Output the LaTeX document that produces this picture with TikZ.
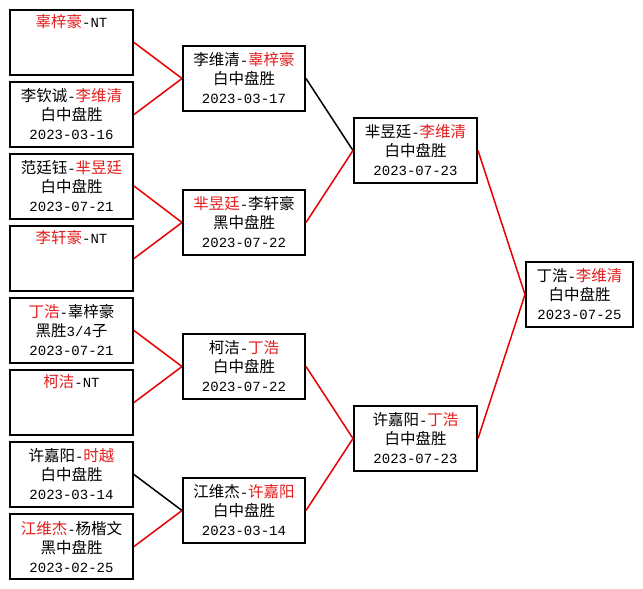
\documentclass[tikz,border=0pt]{standalone}
\usepackage{fontspec}
\setmainfont{Noto Sans CJK SC}
\newfontfamily\monofam{Liberation Mono}
\newcommand{\asc}[1]{{\monofam\fontsize{14}{19}\selectfont #1}}
\definecolor{wred}{RGB}{228,30,30}
\definecolor{lred}{RGB}{230,0,0}
\newcommand{\rd}[1]{\textcolor{wred}{#1}}
\tikzset{
  box/.style={draw=black, line width=2pt, fill=white, minimum width=123pt, minimum height=65pt,
    inner sep=0pt, align=center, font=\fontsize{15.5}{19}\selectfont},
  win/.style={draw=lred, line width=1.5pt},
  lose/.style={draw=black, line width=1.5pt}
}
\begin{document}
\begin{tikzpicture}[x=1pt,y=-1pt]
\fill[white] (0,0) rectangle (643,589);
\useasboundingbox (0,0) rectangle (643,589);
% column 1
\node[box] (a1) at (71.5,42.5) {\rd{辜梓豪}\asc{-NT}\\\strut\\\strut};
\node[box] (a2) at (71.5,114.5) {李钦诚\asc{-}\rd{李维清}\\白中盘胜\\\asc{2023-03-16}};
\node[box] (a3) at (71.5,186) {范廷钰\asc{-}\rd{芈昱廷}\\白中盘胜\\\asc{2023-07-21}};
\node[box] (a4) at (71.5,258.5) {\rd{李轩豪}\asc{-NT}\\\strut\\\strut};
\node[box] (a5) at (71.5,330.5) {\rd{丁浩}\asc{-}辜梓豪\\黑胜\asc{3/4}子\\\asc{2023-07-21}};
\node[box] (a6) at (71.5,402.5) {\rd{柯洁}\asc{-NT}\\\strut\\\strut};
\node[box] (a7) at (71.5,474.5) {许嘉阳\asc{-}\rd{时越}\\白中盘胜\\\asc{2023-03-14}};
\node[box] (a8) at (71.5,546.5) {\rd{江维杰}\asc{-}杨楷文\\黑中盘胜\\\asc{2023-02-25}};
% column 2
\node[box, minimum width=122pt] (b1) at (244,78.5) {李维清\asc{-}\rd{辜梓豪}\\白中盘胜\\\asc{2023-03-17}};
\node[box, minimum width=122pt] (b2) at (244,222.5) {\rd{芈昱廷}\asc{-}李轩豪\\黑中盘胜\\\asc{2023-07-22}};
\node[box, minimum width=122pt] (b3) at (244,366.5) {柯洁\asc{-}\rd{丁浩}\\白中盘胜\\\asc{2023-07-22}};
\node[box, minimum width=122pt] (b4) at (244,510.5) {江维杰\asc{-}\rd{许嘉阳}\\白中盘胜\\\asc{2023-03-14}};
% column 3
\node[box] (c1) at (415.5,150.5) {芈昱廷\asc{-}\rd{李维清}\\白中盘胜\\\asc{2023-07-23}};
\node[box] (c2) at (415.5,438.5) {许嘉阳\asc{-}\rd{丁浩}\\白中盘胜\\\asc{2023-07-23}};
% column 4
\node[box, minimum width=107pt] (d1) at (579.5,294.5) {丁浩\asc{-}\rd{李维清}\\白中盘胜\\\asc{2023-07-25}};
% connectors
\draw[win] (a1.east) -- (b1.west);
\draw[win] (a2.east) -- (b1.west);
\draw[win] (a3.east) -- (b2.west);
\draw[win] (a4.east) -- (b2.west);
\draw[win] (a5.east) -- (b3.west);
\draw[win] (a6.east) -- (b3.west);
\draw[lose] (a7.east) -- (b4.west);
\draw[win] (a8.east) -- (b4.west);
\draw[lose] (b1.east) -- (c1.west);
\draw[win] (b2.east) -- (c1.west);
\draw[win] (b3.east) -- (c2.west);
\draw[win] (b4.east) -- (c2.west);
\draw[win] (c1.east) -- (d1.west);
\draw[win] (c2.east) -- (d1.west);
\end{tikzpicture}
\end{document}
